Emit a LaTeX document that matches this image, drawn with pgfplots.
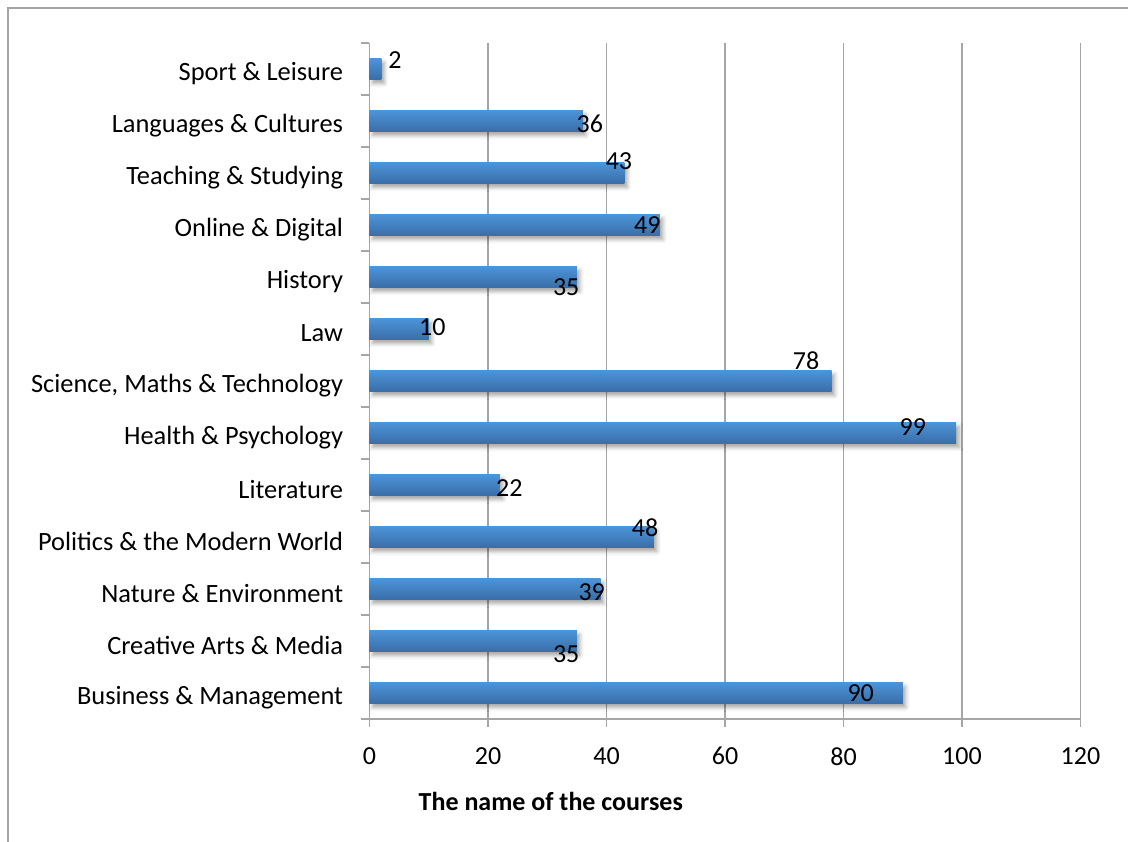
\documentclass[border=0pt]{standalone}
\usepackage{fontspec}
\setmainfont{Carlito}
\usepackage{pgfplots}
\pgfplotsset{compat=1.18}
\usetikzlibrary{shadows.blur}
\definecolor{gridgray}{RGB}{166,166,166}
\definecolor{framegray}{RGB}{165,165,165}
\definecolor{barlight}{RGB}{76,148,216}
\definecolor{bardark}{RGB}{58,110,168}
\pgfplotsset{onebar/.style={xbar, bar width=10.5pt, bar shift=0pt, draw=none,
  top color=barlight, bottom color=bardark,
  blur shadow={shadow xshift=1.5pt, shadow yshift=-2pt, shadow blur radius=2pt, shadow opacity=35}}}
\begin{document}
\begin{tikzpicture}
\path[use as bounding box] (-184.75pt,-61pt) rectangle (379.25pt,359.5pt);
\draw[framegray, line width=1pt] (-180.75pt,-120pt) -- (-180.75pt,355.5pt) -- (420pt,355.5pt);
\begin{axis}[
  at={(0,0)}, anchor=south west,
  scale only axis,
  width=355.5pt, height=338pt,
  xmin=0, xmax=120, ymin=-0.5, ymax=12.5,
  xtick={0,20,...,120},
  ytick={-0.5,0.5,...,12.5},
  y tick label as interval,
  yticklabels={Business \& Management, Creative Arts \& Media, Nature \& Environment, Politics \& the Modern World, Literature, Health \& Psychology, {Science, Maths \& Technology}, Law, History, Online \& Digital, Teaching \& Studying, Languages \& Cultures, Sport \& Leisure},
  axis x line=bottom, axis y line=left,
  axis line style={-, draw=gridgray, line width=0.7pt},
  xmajorgrids,
  grid style={draw=gridgray, line width=0.7pt},
  tick align=outside,
  major tick length=4pt,
  tick style={draw=gridgray, line width=0.7pt},
  /pgf/number format/assume math mode=true,
  tick label style={font=\fontsize{13}{15}\selectfont, text=black},
  xticklabel style={inner sep=0pt, yshift=-10pt},
  yticklabel style={inner sep=0pt, xshift=-9pt, yshift=-2.2pt, font=\fontsize{13.2}{15}\selectfont},
  clip=false,
]
\addplot[onebar] coordinates {(90,0)};
\addplot[onebar] coordinates {(35,1)};
\addplot[onebar] coordinates {(39,2)};
\addplot[onebar] coordinates {(48,3)};
\addplot[onebar] coordinates {(22,4)};
\addplot[onebar] coordinates {(99,5)};
\addplot[onebar] coordinates {(78,6)};
\addplot[onebar] coordinates {(10,7)};
\addplot[onebar] coordinates {(35,8)};
\addplot[onebar] coordinates {(49,9)};
\addplot[onebar] coordinates {(43,10)};
\addplot[onebar] coordinates {(36,11)};
\addplot[onebar] coordinates {(2,12)};
\begin{scope}[every node/.style={inner sep=0pt, font=\fontsize{13}{15}\selectfont}]
\node at (axis cs:82.9,0.0) {90};
\node at (axis cs:33.2,0.75) {35};
\node at (axis cs:37.5,1.94) {39};
\node at (axis cs:46.5,3.18) {48};
\node at (axis cs:23.6,3.94) {22};
\node at (axis cs:91.7,5.11) {99};
\node at (axis cs:73.7,6.39) {78};
\node at (axis cs:10.6,7.03) {10};
\node at (axis cs:33.2,7.81) {35};
\node at (axis cs:46.9,9.0) {49};
\node at (axis cs:42.1,10.23) {43};
\node at (axis cs:37.2,10.95) {36};
\node at (axis cs:4.3,12.17) {2};
\end{scope}
\end{axis}
\node[inner sep=0pt, font=\fontsize{13}{15}\selectfont\bfseries] at (90.65pt,-41pt) {The name of the courses};
\end{tikzpicture}
\end{document}
